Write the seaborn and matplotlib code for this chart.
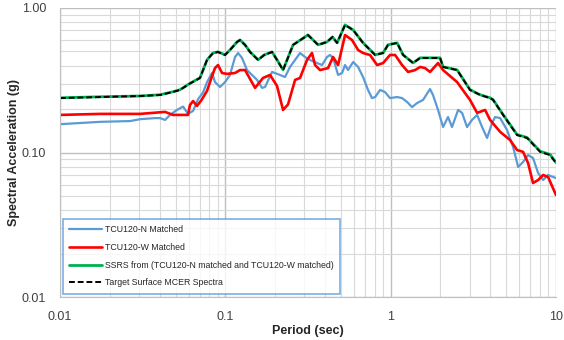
import matplotlib
matplotlib.use("Agg")
import matplotlib.pyplot as plt
import seaborn as sns
import pandas as pd
from matplotlib.ticker import FixedLocator, NullFormatter, FixedFormatter

sns.set_style("white")
plt.rcParams['font.family'] = ['Liberation Sans', 'DejaVu Sans']

# ---- data (period in sec, spectral acceleration in g) ----
n_period = [0.01, 0.0175, 0.0265, 0.0305, 0.0376, 0.0403, 0.0432, 0.0463, 0.0510, 0.0555,
            0.0595, 0.0638, 0.0684, 0.0733, 0.0775, 0.0831, 0.0866, 0.0929, 0.0996, 0.1067,
            0.1145, 0.1194, 0.1262, 0.1353, 0.145, 0.1555, 0.1667, 0.1738, 0.1917, 0.2142,
            0.2296, 0.2462, 0.2642, 0.2831, 0.3034, 0.3252, 0.3586, 0.3846, 0.4121, 0.4297,
            0.4485, 0.4808, 0.5082, 0.5297, 0.5521, 0.5929, 0.6353, 0.6808, 0.7295, 0.7709,
            0.8054, 0.863, 0.9247, 0.9908, 1.094, 1.172, 1.256, 1.347, 1.445, 1.57,
            1.73, 1.803, 1.935, 2.074, 2.223, 2.35, 2.558, 2.704, 2.897, 3.105,
            3.334, 3.573, 3.83, 4.108, 4.282, 4.592, 5.058, 5.505, 5.902, 6.325,
            6.776, 7.262, 7.798, 8.356, 8.954, 9.594, 10.0]
n_sa = [0.157, 0.163, 0.165, 0.170, 0.173, 0.173, 0.168, 0.182, 0.197, 0.208,
        0.185, 0.194, 0.234, 0.260, 0.307, 0.355, 0.307, 0.284, 0.307, 0.344,
        0.458, 0.488, 0.451, 0.372, 0.344, 0.318, 0.280, 0.284, 0.361, 0.344,
        0.333, 0.391, 0.437, 0.488, 0.458, 0.437, 0.416, 0.403, 0.458, 0.473,
        0.451, 0.344, 0.355, 0.403, 0.372, 0.423, 0.391, 0.333, 0.271, 0.238,
        0.242, 0.271, 0.262, 0.238, 0.242, 0.238, 0.224, 0.206, 0.220, 0.231,
        0.275, 0.250, 0.197, 0.150, 0.176, 0.150, 0.197, 0.188, 0.150, 0.168,
        0.182, 0.150, 0.126, 0.160, 0.176, 0.173, 0.143, 0.109, 0.0794, 0.086,
        0.096, 0.0916, 0.0721, 0.0645, 0.0699, 0.0677, 0.0666]

w_period = [0.01, 0.0175, 0.0305, 0.0432, 0.0482, 0.0595, 0.0611, 0.0638, 0.0674, 0.0718,
            0.0775, 0.0831, 0.0866, 0.0903, 0.0955, 0.1024, 0.1145, 0.1227, 0.1316, 0.1513,
            0.169, 0.1863, 0.2054, 0.2234, 0.2394, 0.2642, 0.2831, 0.3119, 0.3343, 0.3488,
            0.3741, 0.418, 0.4485, 0.4808, 0.5297, 0.5843, 0.6353, 0.6808, 0.7499, 0.8279,
            0.8995, 0.9908, 1.064, 1.172, 1.274, 1.406, 1.507, 1.614, 1.73, 1.935,
            2.074, 2.523, 3.02, 3.334, 3.725, 3.992, 4.592, 5.272, 5.817, 6.325,
            6.776, 7.262, 7.798, 8.356, 8.954, 10.0]
w_sa = [0.182, 0.185, 0.185, 0.191, 0.182, 0.182, 0.213, 0.227, 0.210, 0.231,
        0.267, 0.338, 0.384, 0.403, 0.355, 0.350, 0.355, 0.372, 0.372, 0.280,
        0.328, 0.344, 0.289, 0.197, 0.215, 0.318, 0.328, 0.437, 0.488, 0.403,
        0.372, 0.384, 0.458, 0.403, 0.650, 0.600, 0.512, 0.488, 0.473, 0.403,
        0.416, 0.473, 0.473, 0.403, 0.361, 0.372, 0.391, 0.384, 0.361, 0.416,
        0.372, 0.307, 0.231, 0.188, 0.197, 0.168, 0.139, 0.122, 0.104, 0.101,
        0.0846, 0.0615, 0.0645, 0.0699, 0.0677, 0.0508]

t_period = [0.01, 0.0175, 0.0305, 0.0403, 0.048, 0.0532, 0.0611, 0.0703, 0.0775, 0.0843,
            0.0903, 0.0996, 0.1067, 0.1178, 0.1227, 0.1316, 0.141, 0.1578, 0.172, 0.1917,
            0.2054, 0.2234, 0.2569, 0.3162, 0.3639, 0.4121, 0.445, 0.4742, 0.5297, 0.5929,
            0.6808, 0.8054, 0.8995, 0.9638, 1.094, 1.189, 1.366, 1.507, 1.99, 2.074,
            2.523, 3.02, 3.475, 3.992, 4.165, 4.786, 5.817, 6.684, 8.017, 9.204, 10.0]
t_sa = [0.238, 0.242, 0.246, 0.250, 0.262, 0.271, 0.300, 0.328, 0.437, 0.488,
        0.496, 0.473, 0.512, 0.582, 0.600, 0.555, 0.496, 0.437, 0.473, 0.496,
        0.437, 0.372, 0.555, 0.650, 0.555, 0.582, 0.630, 0.573, 0.763, 0.704,
        0.573, 0.473, 0.488, 0.555, 0.573, 0.473, 0.416, 0.451, 0.451, 0.391,
        0.372, 0.271, 0.250, 0.238, 0.231, 0.182, 0.132, 0.126, 0.101, 0.096, 0.0846]

s_period = list(t_period)
s_sa = [0.239, 0.243, 0.246, 0.251, 0.263, 0.272, 0.301, 0.329, 0.438, 0.489,
        0.497, 0.474, 0.513, 0.583, 0.601, 0.556, 0.497, 0.438, 0.474, 0.497,
        0.438, 0.373, 0.556, 0.651, 0.556, 0.583, 0.631, 0.574, 0.764, 0.705,
        0.574, 0.474, 0.489, 0.556, 0.574, 0.474, 0.417, 0.452, 0.452, 0.392,
        0.373, 0.272, 0.251, 0.239, 0.232, 0.183, 0.133, 0.127, 0.102, 0.097, 0.0850]

labels = ["TCU120-N Matched", "TCU120-W Matched",
          "SSRS from (TCU120-N matched and TCU120-W matched)",
          "Target Surface MCER Spectra"]

x_ticks = [0.01, 0.1, 1, 10]
x_ticklabels = ["0.01", "0.1", "1", "10"]
y_ticks = [0.01, 0.1, 1.0]
y_ticklabels = ["0.01", "0.10", "1.00"]

# ---- figure ----
fig = plt.figure(figsize=(5.64, 3.40), dpi=100)
ax = fig.add_axes([60/564, 1-297/340, (556-60)/564, (297-8)/340])

df_n = pd.DataFrame({"T": n_period, "SA": n_sa})
df_w = pd.DataFrame({"T": w_period, "SA": w_sa})
df_s = pd.DataFrame({"T": s_period, "SA": s_sa})
df_t = pd.DataFrame({"T": t_period, "SA": t_sa})

sns.lineplot(data=df_n, x="T", y="SA", ax=ax, color="#5B9BD5", lw=1.6,
             label=labels[0], estimator=None, sort=False)
sns.lineplot(data=df_w, x="T", y="SA", ax=ax, color="#FF0000", lw=1.9,
             label=labels[1], estimator=None, sort=False)
sns.lineplot(data=df_s, x="T", y="SA", ax=ax, color="#00B050", lw=2.0,
             label=labels[2], estimator=None, sort=False)
sns.lineplot(data=df_t, x="T", y="SA", ax=ax, color="black", lw=1.4,
             linestyle=(0, (3, 1.5)), label=labels[3], estimator=None, sort=False)

ax.set_xscale("log")
ax.set_yscale("log")
ax.set_xlim(0.01, 10)
ax.set_ylim(0.01, 1.0)

ax.xaxis.set_major_locator(FixedLocator(x_ticks))
ax.xaxis.set_major_formatter(FixedFormatter(x_ticklabels))
ax.yaxis.set_major_locator(FixedLocator(y_ticks))
ax.yaxis.set_major_formatter(FixedFormatter(y_ticklabels))
ax.xaxis.set_minor_formatter(NullFormatter())
ax.yaxis.set_minor_formatter(NullFormatter())

ax.grid(True, which="major", color="#BFBFBF", lw=1.0)
ax.grid(True, which="minor", color="#D9D9D9", lw=0.8)
ax.set_axisbelow(True)

for side in ["top", "right"]:
    ax.spines[side].set_visible(False)
ax.spines["left"].set_color("#BFBFBF")
ax.spines["bottom"].set_color("#BFBFBF")

ax.tick_params(axis="both", which="major", labelsize=9, colors="#404040",
               length=3, width=0.8, color="#BFBFBF", pad=7)
ax.tick_params(axis="x", which="minor", length=3, width=0.8, color="#D9D9D9")
ax.tick_params(axis="y", which="minor", length=0)

ax.set_xlabel("Period (sec)", fontsize=9, fontweight="bold", color="#262626")
ax.set_ylabel("Spectral Acceleration (g)", fontsize=9, fontweight="bold", color="#262626")
ax.xaxis.set_label_coords(0.5, -0.098)
ax.yaxis.set_label_coords(-0.081, 0.5)

leg = ax.legend(loc="lower left", bbox_to_anchor=(0.002, 0.006), fontsize=6.3,
                frameon=True, fancybox=False, handlelength=3.8, handletextpad=0.3,
                borderpad=0.7, labelspacing=1.0, borderaxespad=0.2)
leg.get_frame().set_edgecolor("#5B9BD5")
leg.get_frame().set_linewidth(1.2)
for t in leg.get_texts():
    t.set_color("#262626")

fig.savefig("out.png", dpi=100)
